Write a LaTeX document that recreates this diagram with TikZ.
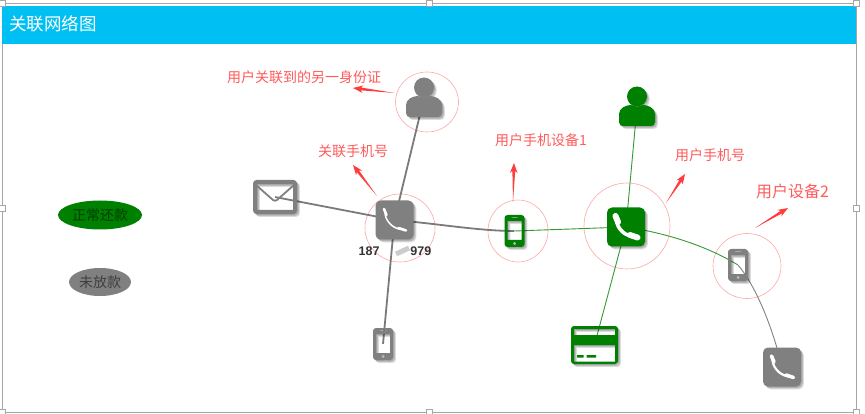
\documentclass[tikz,border=0pt]{standalone}
\usepackage{fontspec}
\setmainfont{Noto Sans CJK SC}
\newfontfamily\numfont{Liberation Sans}
\usetikzlibrary{calc,shapes.geometric}
\definecolor{headblue}{HTML}{00BFF3}
\definecolor{tipred}{HTML}{FF3B3B}
\definecolor{textred}{HTML}{FF5A5A}
\definecolor{okgreen}{HTML}{008000}
\definecolor{linegreen}{HTML}{339933}
\definecolor{nogray}{HTML}{808080}
\def\Title{关联网络图}
\def\Other{用户关联到的另一身份证}
\def\Bound{关联手机号}
\def\DeviceA{用户手机设备1}
\def\Mobile{用户手机号}
\def\DeviceB{用户设备2}
\tikzset{
    hub/.style={inner sep=0pt, minimum size=0pt},
    ring/.style={draw=red!35, line width=0.6pt, ellipse, inner sep=0pt},
    tip/.style={anchor=west, text=textred, inner sep=0pt, font=\fontsize{14}{14}\selectfont},
    legend/.style={ellipse, inner sep=0pt, text=black, text opacity=.5, font=\fontsize{14}{14}\selectfont},
    handle/.style={draw=black!35, fill=white, line width=0.5pt, minimum size=6pt, inner sep=0pt},
    handset/.style={white, line cap=round},
}
\newcommand{\thickgray}[2]{\draw[nogray!95!black, line width=1.8pt] (#1) -- (#2)}
\newcommand{\thingreen}[2]{\draw[linegreen, line width=0.9pt] (#1) -- (#2)}
\newcommand{\callout}[2]{\fill[tipred] (#1) -- ($(#2)!8pt!(#1)!1.4pt!90:(#1)$) -- ($(#2)!10pt!(#1)!3.8pt!90:(#1)$)
    -- (#2) -- ($(#2)!10pt!(#1)!3.8pt!-90:(#1)$) -- ($(#2)!8pt!(#1)!1.4pt!-90:(#1)$) -- cycle}
% soft shadow and then the shape: #1 colour, #2 path
\newcommand{\shaped}[2]{
    \fill[black, opacity=.12, even odd rule, shift={(0.8,0.8)}] #2;
    \fill[black, opacity=.14, even odd rule, shift={(1.8,1.8)}] #2;
    \fill[black, opacity=.14, even odd rule, shift={(2.8,2.8)}] #2;
    \fill[#1, even odd rule] #2;
}
% #1 hub, #2 colour, #3 handset line width, #4 ends line width
\newcommand{\phoneicon}[4]{
    \begin{scope}[shift={(#1)}]
        \shaped{#2}{[rounded corners=5pt] (-19,-19.5) rectangle (19,19.5)}
        \draw[handset, line width=#3] (-9.5,-7) .. controls (-9,2) and (0,10) .. (9,9.5);
        \draw[handset, line width=#4] (-10.5,-11) -- (-8,-5);
        \draw[handset, line width=#4] (4,8) -- (11.5,10.5);
    \end{scope}
}
\newcommand{\mobileicon}[2]{
    \begin{scope}[shift={(#1)}]
        \shaped{#2}{[rounded corners=3pt] (-10,-16) rectangle (10,16)
            [sharp corners] (-7,-10) rectangle (7,9) (0,12.5) circle (1.8) (-3,-13.6) rectangle (3,-12.8)}
    \end{scope}
}
\newcommand{\personicon}[2]{
    \begin{scope}[shift={(#1)}]
        \shaped{#2}{(0,-10.5) circle (10)}
        \shaped{#2}{(-18,15) .. controls (-18,18) and (-16,19) .. (-14,19) -- (14,19)
            .. controls (16,19) and (18,18) .. (18,15) -- (18,7) .. controls (18,1) and (11,-2) .. (6,-2)
            .. controls (3,0) and (-3,0) .. (-6,-2) .. controls (-11,-2) and (-18,1) .. (-18,7) -- cycle}
    \end{scope}
}
\begin{document}
\begin{tikzpicture}[x=1pt, y=-1pt]
    \useasboundingbox (0,0) rectangle (865,414);

    % frame and title
    \draw[black!35, line width=0.8pt] (2,3.5) rectangle (856,412);
    \node[fill=headblue, minimum width=854pt, minimum height=38.5pt, inner sep=0pt, anchor=north west] (head) at (2,5.5) {};
    \node[anchor=west, text=white, inner sep=0pt, font=\fontsize{17.5}{18}\selectfont] (title) at (9,24) {\Title};
    \foreach \hx/\hy [count=\hn] in {2/3,429/3,856/3,2/208,856/208,2/412,429/412,856/412}
        \node[handle] (handle\hn) at (\hx,\hy) {};

    % legend
    \node[legend, fill=okgreen, minimum width=84pt, minimum height=29pt] (normal) at (100,215) {正常还款};
    \node[legend, fill=nogray, minimum width=62pt, minimum height=28pt] (unpaid) at (100,282) {未放款};

    % positions of the icons
    \node[hub] (otherid) at (424,98) {};
    \node[hub] (mail) at (275,197) {};
    \node[hub] (phoneb) at (394.5,220) {};
    \node[hub] (mobileb) at (383,344) {};
    \node[hub] (devicea) at (514.5,231) {};
    \node[hub] (userid) at (637,107) {};
    \node[hub] (phonea) at (626,227) {};
    \node[hub] (card) at (594.5,345) {};
    \node[hub] (deviceb) at (738,265) {};
    \node[hub] (phonec) at (782,367) {};

    % rings
    \node[ring, minimum width=63pt, minimum height=60pt] (ringother) at (427,102) {};
    \node[ring, minimum width=70pt, minimum height=68pt] (ringb) at (400,228) {};
    \node[ring, minimum width=60pt, minimum height=62pt] (ringdevicea) at (518,231) {};
    \node[ring, minimum width=86pt, minimum height=86pt] (ringa) at (627,226) {};
    \node[ring, minimum width=68pt, minimum height=65pt] (ringdeviceb) at (747,266) {};

    % links
    \thickgray{otherid}{phoneb};
    \thickgray{mail}{phoneb};
    \thickgray{phoneb}{mobileb};
    \draw[nogray!95!black, line width=1.8pt] (phoneb) .. controls (440,224) and (480,231) .. (devicea);
    \thingreen{devicea}{phonea};
    \thingreen{userid}{phonea};
    \thingreen{phonea}{card};
    \draw[linegreen, line width=0.9pt] (phonea) .. controls (665,233) and (705,245) .. (deviceb);
    \draw[nogray, line width=0.9pt] (deviceb) .. controls (755,285) and (772,325) .. (phonec);

    % icons
    \personicon{otherid}{nogray};
    \personicon{userid}{okgreen};
    \begin{scope}[shift={(mail)}]
        \shaped{nogray}{[rounded corners=3.5pt] (-22,-17) rectangle (22,17)
            [sharp corners] (-18,-13) rectangle (18,13)}
        \draw[nogray, line width=1.8pt, line join=round] (-19,-12) -- (-2,3) .. controls (-1,4) and (1,4) .. (2,3) -- (19,-12);
    \end{scope}
    \phoneicon{phoneb}{nogray}{1.5pt}{2.6pt};
    \phoneicon{phonea}{okgreen}{3.6pt}{6pt};
    \phoneicon{phonec}{nogray}{2.2pt}{3.6pt};
    \mobileicon{mobileb}{nogray};
    \mobileicon{devicea}{okgreen};
    \mobileicon{deviceb}{nogray};
    \begin{scope}[shift={(card)}]
        \shaped{okgreen}{[rounded corners=3pt] (-23.5,-19) rectangle (23.5,19)
            [sharp corners] (-20.5,-16) rectangle (20.5,-10) (-20.5,0) rectangle (20.5,16.5)}
        \fill[okgreen] (-17.5,10) rectangle (-11,12.5) (-7.8,10) rectangle (1.5,12.5);
    \end{scope}

    % number under the phone
    \node[inner sep=0pt, text=black!80, font=\numfont\bfseries\fontsize{12.5}{12.5}\selectfont] (number) at (395,251) {187\hspace{31pt}979};
    \draw[black!20, line width=5pt] (396,254) -- (409,248);

    % tips
    \node[tip] (tipother) at (227,77) {\Other};
    \node[tip] (tipbound) at (318,151) {\Bound};
    \node[tip] (tipdevicea) at (495,140) {\DeviceA};
    \node[tip] (tipmobile) at (675,155) {\Mobile};
    \node[tip, font=\fontsize{16}{16}\selectfont] (tipdeviceb) at (756,191) {\DeviceB};

    \coordinate (otherfrom) at (395,93);
    \coordinate (otherto) at (353,88);
    \coordinate (boundfrom) at (377,196);
    \coordinate (boundto) at (353,165);
    \coordinate (deviceafrom) at (513,202);
    \coordinate (deviceato) at (514,163);
    \coordinate (mobilefrom) at (666,203);
    \coordinate (mobileto) at (685,174);
    \coordinate (devicebfrom) at (755,228);
    \coordinate (devicebto) at (788,208);
    \callout{otherfrom}{otherto};
    \callout{boundfrom}{boundto};
    \callout{deviceafrom}{deviceato};
    \callout{mobilefrom}{mobileto};
    \callout{devicebfrom}{devicebto};
\end{tikzpicture}
\end{document}
